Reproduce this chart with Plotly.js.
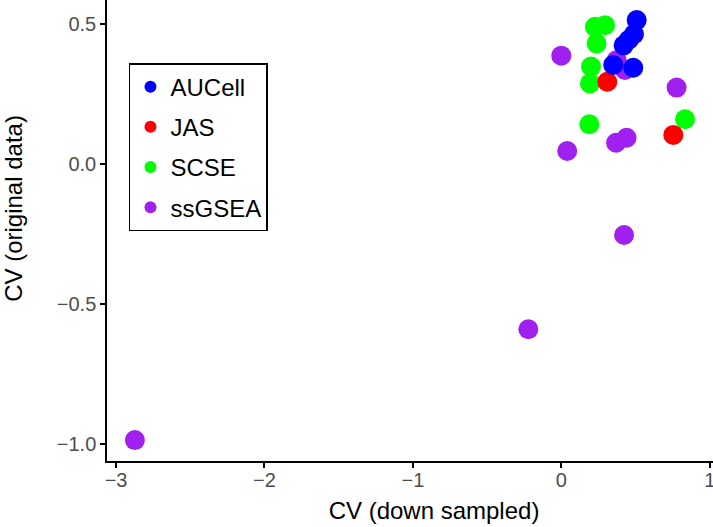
<!DOCTYPE html>
<html>
<head>
<meta charset="utf-8">
<script src="https://cdn.plot.ly/plotly-3.0.1.min.js"></script>
<style>
html, body { margin: 0; padding: 0; overflow: hidden; background: #fff; width: 713px; height: 527px; }
#chart { position: absolute; left: 0; top: -44px; width: 761px; height: 571px; }
</style>
</head>
<body>
<div id="chart"></div>
<script>
// Series data: CV (down sampled) vs CV (original data)
const aucellX = [0.508, 0.49, 0.455, 0.42, 0.35, 0.485];
const aucellY = [0.515, 0.465, 0.445, 0.425, 0.355, 0.345];

const jasX = [0.31, 0.755];
const jasY = [0.295, 0.105];

const scseX = [0.227, 0.295, 0.238, 0.2, 0.193, 0.189, 0.834];
const scseY = [0.491, 0.497, 0.432, 0.349, 0.289, 0.143, 0.161];

const ssgseaX = [0.0, 0.777, 0.04, 0.369, 0.44, 0.373, 0.429, 0.423, -0.222, -2.873];
const ssgseaY = [0.388, 0.274, 0.0475, 0.077, 0.095, 0.372, 0.337, -0.2525, -0.589, -0.985];

const seriesNames = ["AUCell", "JAS", "SCSE", "ssGSEA"];
const seriesColors = ["#0000FF", "#FF0000", "#00FF00", "#A020F0"];

const xTitle = "CV (down sampled)";
const yTitle = "CV (original data)";

function tr(x, y, i) {
  return {
    type: "scatter", mode: "markers",
    x: x, y: y, name: seriesNames[i],
    legendgroup: seriesNames[i], legendrank: i + 1,
    marker: { color: seriesColors[i], size: 20, line: { width: 0 } },
    hoverinfo: "x+y+name"
  };
}

const data = [
  tr(ssgseaX, ssgseaY, 3),
  tr(scseX, scseY, 2),
  tr(jasX, jasY, 1),
  tr(aucellX, aucellY, 0)
];

const axisCommon = {
  showgrid: false, zeroline: false,
  showline: true, linecolor: "#000", linewidth: 1.5,
  ticks: "outside", ticklen: 5, tickwidth: 1.5, tickcolor: "#000",
  tickfont: { family: "Liberation Sans, Arial, sans-serif", size: 20, color: "#4d4d4d" },
  automargin: false
};

const layout = {
  width: 761, height: 571,
  margin: { l: 107, r: 0, t: 0, b: 66 },
  paper_bgcolor: "#fff", plot_bgcolor: "#fff",
  showlegend: true,
  xaxis: Object.assign({}, axisCommon, {
    range: [-3.061, 1.3457], dtick: 1, tick0: 0,
    ticklabelstandoff: -5,
    title: { text: xTitle, standoff: 12, font: { family: "Liberation Sans, Arial, sans-serif", size: 24, color: "#000" } }
  }),
  yaxis: Object.assign({}, axisCommon, {
    range: [-1.0596, 0.744], dtick: 0.5, tick0: 0, tickformat: ".1f",
    title: { text: yTitle, standoff: 31, font: { family: "Liberation Sans, Arial, sans-serif", size: 24, color: "#000" } }
  }),
  legend: {
    x: 0.0336, y: 0.788, xanchor: "left", yanchor: "top",
    bgcolor: "#fff", bordercolor: "#000", borderwidth: 1.5,
    font: { family: "Liberation Sans, Arial, sans-serif", size: 24, color: "#000" },
    itemsizing: "constant", tracegroupgap: 6
  }
};

Plotly.newPlot("chart", data, layout, { displayModeBar: false, staticPlot: false });
</script>
</body>
</html>
